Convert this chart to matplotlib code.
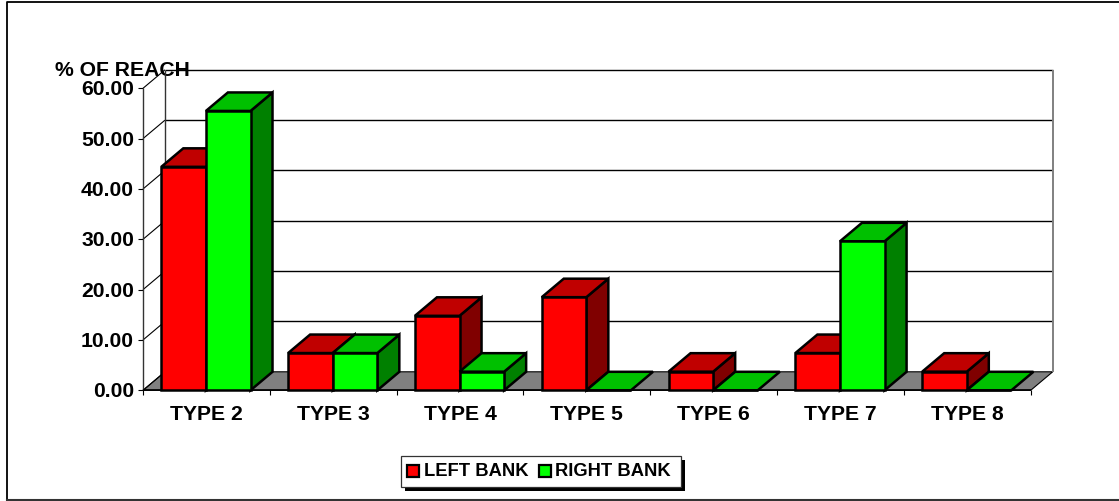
import matplotlib
matplotlib.use('Agg')
import matplotlib.pyplot as plt
from matplotlib.patches import Polygon, Rectangle

plt.rcParams['font.family'] = ['Liberation Sans', 'DejaVu Sans']
plt.rcParams['font.weight'] = 'bold'

categories = ['TYPE 2', 'TYPE 3', 'TYPE 4', 'TYPE 5', 'TYPE 6', 'TYPE 7', 'TYPE 8']
left_bank = [44.4, 7.4, 14.8, 18.5, 3.7, 7.4, 3.7]
right_bank = [55.5, 7.4, 3.7, 0, 0, 29.6, 0]
y_ticks = [0, 10, 20, 30, 40, 50, 60]

W, H = 1119, 501
DX = 22 / 126.8   # depth in category units
DY = 18.5 / 5.033  # depth in value units
BAR_W = 44.6 / 126.8
GAP = 18.3 / 126.8

fig = plt.figure(figsize=(W / 100, H / 100), dpi=100, facecolor='white')

# page frame, in pixels
page = fig.add_axes([0, 0, 1, 1])
page.set_xlim(0, W)
page.set_ylim(H, 0)
page.axis('off')
page.plot([6.5, 6.5, W], [499.5, 2, 2], color='black', lw=1.3)
page.plot([6.5, W], [499.8, 499.8], color='#333333', lw=1.5)

ax = fig.add_axes([143 / W, (H - 390.3) / H, 887.7 / W, 302 / H])
ax.set_xlim(0, 7)
ax.set_ylim(0, 60)
ax.axis('off')


def poly(pts, color, lw=1.0, z=2, edge='black'):
    ax.add_patch(Polygon(pts, closed=True, facecolor=color, edgecolor=edge, lw=lw,
                         zorder=z, clip_on=False, joinstyle='miter'))


def line(xs, ys, color='black', lw=1.0, z=1):
    ax.plot(xs, ys, color=color, lw=lw, zorder=z, clip_on=False, solid_capstyle='butt')


# floor
poly([(0, 0), (7, 0), (7 + DX, DY), (DX, DY)], '#808080', lw=0.8, z=1)

# walls and grid
for t in y_ticks:
    if t > 0:
        line([DX, 7 + DX], [t + DY, t + DY])
    line([0, DX], [t, t + DY], lw=0.8)
    line([-5 / 126.8, 0], [t, t], lw=0.8)
line([0, 0], [0, 60], lw=1.0, color='#333333')
line([DX, DX], [DY, 60 + DY], lw=1.0, color='#333333')
line([7 + DX, 7 + DX], [DY, 60 + DY], lw=1.4, color='#808080')
line([0, 7], [0, 0], lw=1.2, z=1.5)
for i in range(8):
    line([i, i], [-1, 0], lw=0.8)


def bar3d(x, v, front, top, side, z):
    x1 = x + BAR_W
    if v > 0:
        poly([(x1, 0), (x1 + DX, DY), (x1 + DX, v + DY), (x1, v)], side, lw=1.8, z=z)
    poly([(x, v), (x1, v), (x1 + DX, v + DY), (x + DX, v + DY)], top, lw=1.8, z=z)
    if v > 0:
        poly([(x, 0), (x1, 0), (x1, v), (x, v)], front, lw=1.8, z=z)
    else:
        line([x, x1], [0, 0], lw=1.8, z=z)


z = 3
for i in range(len(categories)):
    x = i + GAP
    bar3d(x, left_bank[i], '#ff0000', '#c00000', '#800000', z)
    z += 1
    bar3d(x + BAR_W, right_bank[i], '#00ff00', '#00c000', '#008000', z)
    z += 1
    ax.text(i + 0.5, -3.0, categories[i], ha='center', va='top', fontsize=15.2,
            fontweight='bold', color='black', clip_on=False)

for t in y_ticks:
    ax.text(-9 / 126.8, t - 0.3, '%.2f' % t, ha='right', va='center', fontsize=15.2,
            fontweight='bold', color='black', clip_on=False)

page.text(55, 70, '% OF REACH', ha='left', va='center', fontsize=15.2, fontweight='bold',
          color='black', zorder=20)

# legend, in pixels
leg = fig.add_axes([0, 0, 1, 1], facecolor='none')
leg.set_xlim(0, W)
leg.set_ylim(H, 0)
leg.axis('off')
leg.add_patch(Rectangle((405, 460), 280, 31, facecolor='black', edgecolor='black', lw=0))
leg.add_patch(Rectangle((400.5, 455.5), 280, 31, facecolor='white', edgecolor='#333333', lw=0.9))
leg.add_patch(Rectangle((407, 465), 12, 12, facecolor='#ff0000', edgecolor='black', lw=1.6))
leg.add_patch(Rectangle((539, 465), 12, 12, facecolor='#00ff00', edgecolor='black', lw=1.6))
leg.text(424, 471, 'LEFT BANK', ha='left', va='center', fontsize=13.2, fontweight='bold', color='black')
leg.text(555, 471, 'RIGHT BANK', ha='left', va='center', fontsize=13.2, fontweight='bold', color='black')

fig.savefig('out.png', dpi=100)
